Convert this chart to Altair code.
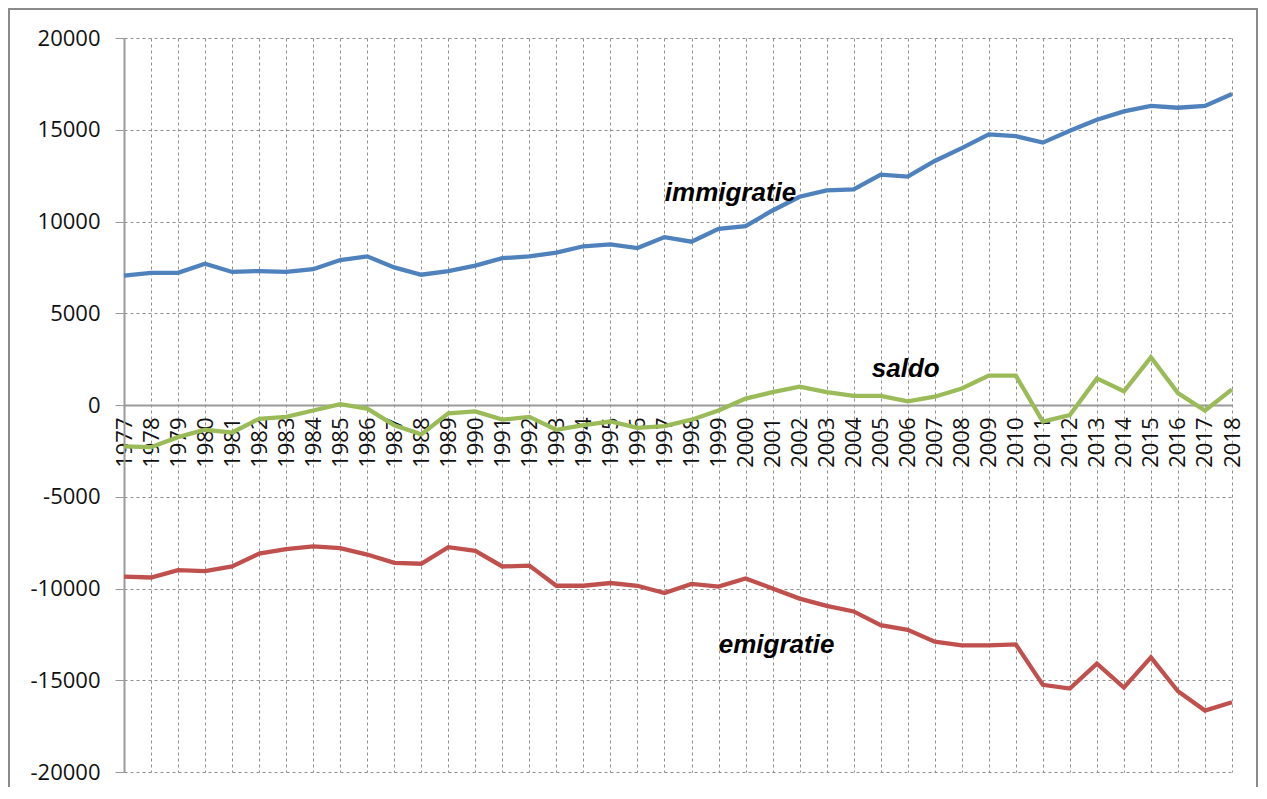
import altair as alt
import pandas as pd

years = [str(y) for y in range(1977, 2019)]

immigratie = [7050, 7200, 7200, 7700, 7250, 7300, 7250, 7400, 7900, 8100,
              7500, 7100, 7300, 7600, 8000, 8100, 8300, 8650, 8750, 8550,
              9150, 8900, 9600, 9750, 10600, 11350, 11700, 11750, 12550, 12450,
              13300, 14000, 14750, 14650, 14300, 14950, 15550, 16000, 16300, 16200,
              16300, 16950]

saldo = [-2250, -2300, -1750, -1350, -1500, -750, -650, -300, 50, -200,
         -1100, -1600, -450, -350, -800, -650, -1350, -1100, -900, -1250,
         -1150, -800, -300, 350, 700, 1000, 700, 500, 500, 200,
         450, 900, 1600, 1600, -900, -550, 1450, 750, 2600, 650,
         -300, 850]

emigratie = [-9350, -9400, -9000, -9050, -8800, -8100, -7850, -7700, -7800, -8150,
             -8600, -8650, -7750, -7950, -8800, -8750, -9850, -9850, -9700, -9850,
             -10250, -9750, -9900, -9450, -10000, -10550, -10950, -11250, -12000, -12250,
             -12900, -13100, -13100, -13050, -15250, -15450, -14100, -15400, -13750, -15600,
             -16650, -16200]

series_names = ["immigratie", "saldo", "emigratie"]
series_colors = ["#4F81BD", "#9BBB59", "#C0504D"]
y_ticks = [-20000, -15000, -10000, -5000, 0, 5000, 10000, 15000, 20000]

label_text = ["immigratie", "saldo", "emigratie"]
label_year = ["1999", "2006", "2001"]
label_value = [11100, 1550, -13530]
label_dx = [12, -2, 4]

rows = []
for name, vals in zip(series_names, [immigratie, saldo, emigratie]):
    for yr, v in zip(years, vals):
        rows.append({"year": yr, "value": v, "serie": name})
df = pd.DataFrame(rows)

W, H = 1108, 734

x_scale = alt.Scale(type="point", padding=0, domain=years)
y_scale = alt.Scale(domain=[-20000, 20000], nice=False)

x_axis = alt.Axis(
    orient="bottom", offset=-367, labelAngle=-90, labelFont="Open Sans",
    labelFontSize=22, labelColor="#111111", labelPadding=12, ticks=False,
    domainColor="#9a9a9a", domainWidth=2, grid=True, gridDash=[3, 3],
    gridColor="#8f8f8f", gridWidth=1, title=None, labelOverlap=False,
)
y_axis = alt.Axis(
    values=y_ticks, labelExpr="datum.value + ''", labelFont="Open Sans",
    labelFontSize=22, labelColor="#111111",
    labelPadding=15, tickSize=9, tickColor="#9a9a9a", domainColor="#9a9a9a",
    domainWidth=2, grid=True, gridDash=[3, 3], gridColor="#8f8f8f", gridWidth=1,
    title=None,
)

lines = alt.Chart(df).mark_line(strokeWidth=4.3).encode(
    x=alt.X("year:O", scale=x_scale, axis=x_axis, sort=years),
    y=alt.Y("value:Q", scale=y_scale, axis=y_axis),
    color=alt.Color("serie:N", scale=alt.Scale(domain=series_names, range=series_colors), legend=None),
)

text_layers = []
for t, yr, v, d in zip(label_text, label_year, label_value, label_dx):
    text_layers.append(
        alt.Chart(pd.DataFrame({"year": [yr], "value": [v], "text": [t]})).mark_text(
            font="Liberation Sans", fontSize=26, fontStyle="italic", fontWeight="bold",
            color="#000000", align="center", baseline="alphabetic", dx=d,
        ).encode(
            x=alt.X("year:O", scale=x_scale, sort=years),
            y=alt.Y("value:Q", scale=y_scale),
            text="text:N",
        )
    )

frame = alt.Chart(alt.Data(values=[{"a": 1}])).mark_rect(
    filled=False, stroke="#8a8a8a", strokeWidth=2,
).encode(
    x=alt.value(-115), x2=alt.value(1133), y=alt.value(-29), y2=alt.value(760),
)

chart = alt.layer(lines, *text_layers, frame).properties(
    width=W, height=H,
    autosize=alt.AutoSizeParams(type="none"),
    padding={"left": 116, "top": 30, "right": 26, "bottom": 15},
    background="white",
).configure_view(strokeWidth=0)

chart.save("out.html", embed_options={"renderer": "svg", "actions": False})
